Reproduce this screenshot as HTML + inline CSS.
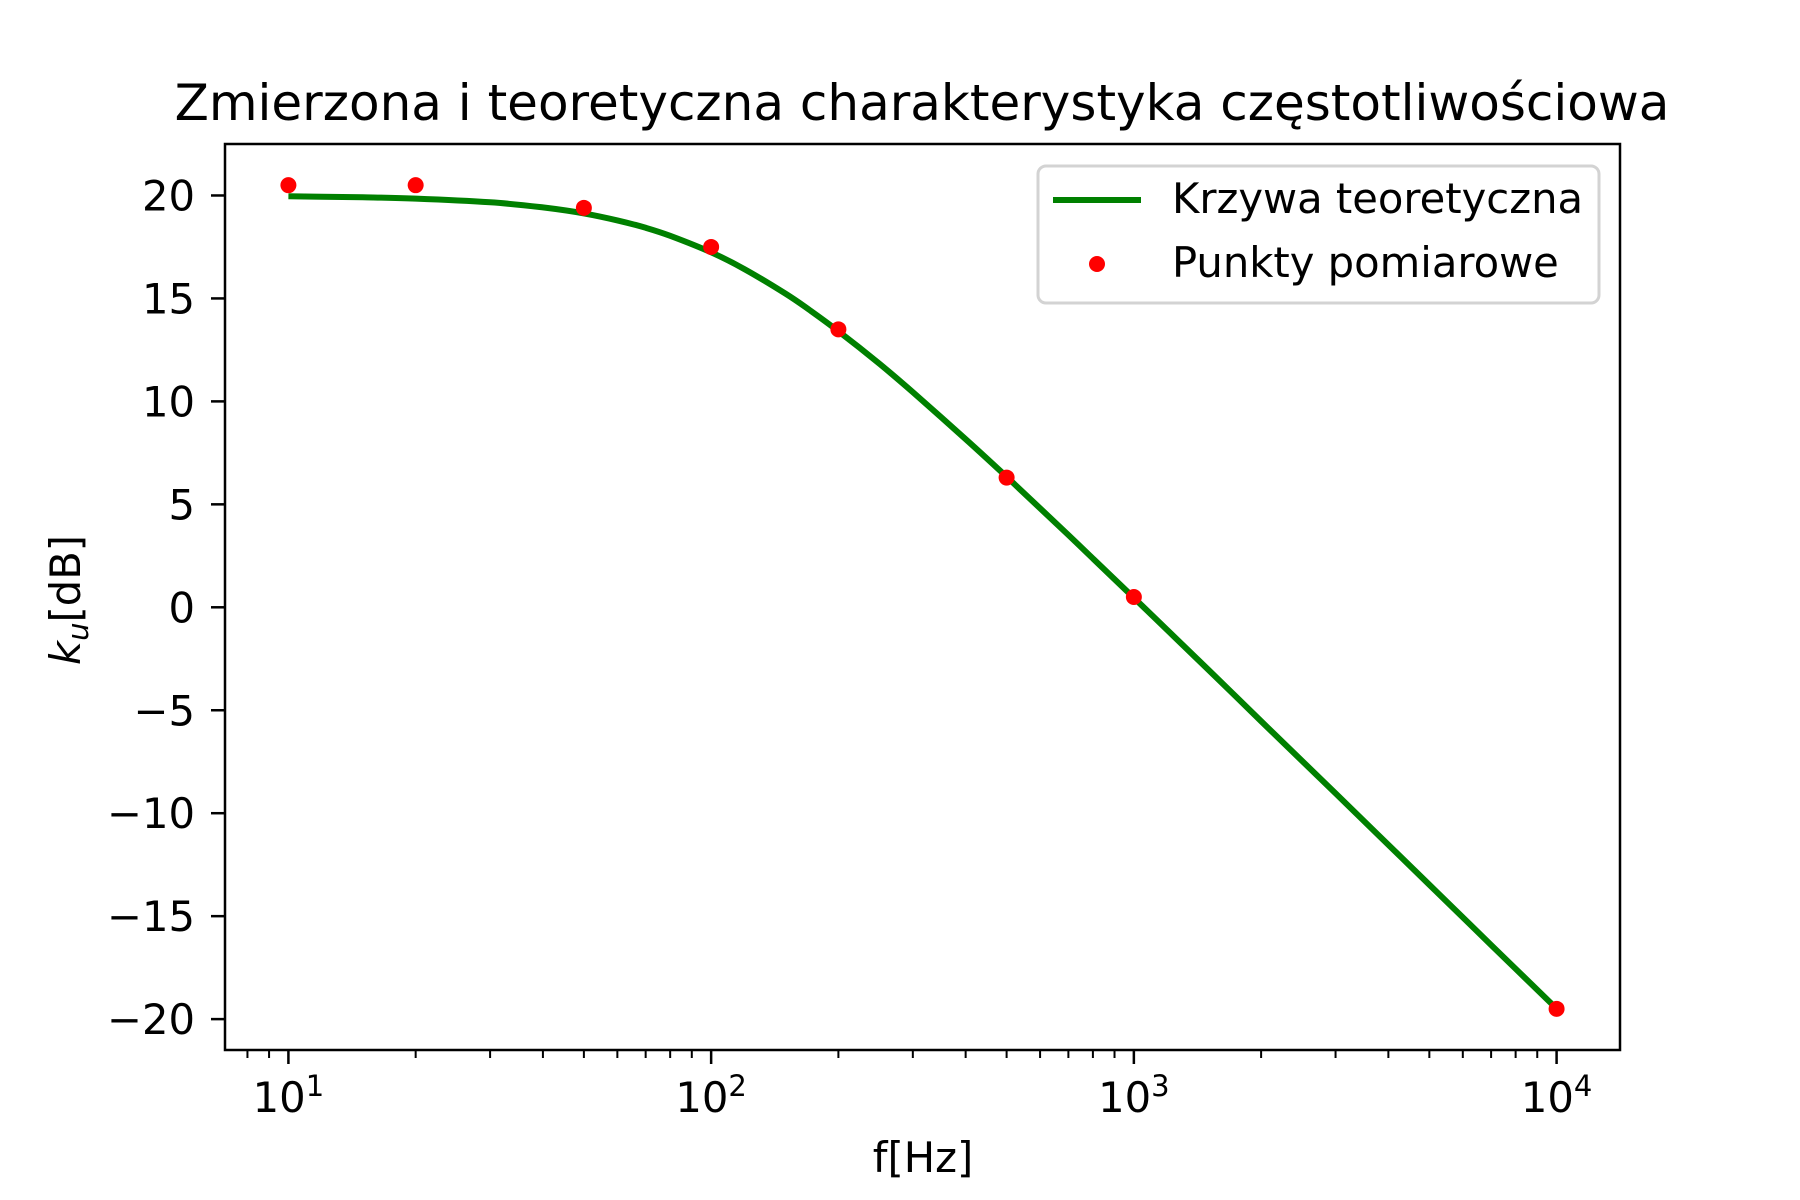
<!DOCTYPE html>
<html><head><meta charset="utf-8"><style>
html,body{margin:0;padding:0;background:#fff;}
svg{display:block;font-family:"DejaVu Sans","Liberation Sans",sans-serif;}
</style></head><body>
<svg id="chart" width="1800" height="1200" viewBox="0 0 1800 1200">
<rect width="1800" height="1200" fill="#fff"/>
<text x="922" y="120" font-size="50" text-anchor="middle">Zmierzona i teoretyczna charakterystyka częstotliwościowa</text>
<g id="plot"></g>
<text x="923" y="1172" font-size="41.7" text-anchor="middle">f[Hz]</text>
<text transform="translate(80,600) rotate(-90)" font-size="41.7" text-anchor="middle"><tspan font-style="italic">k</tspan><tspan font-style="italic" font-size="29" dy="8">u</tspan><tspan dy="-8">[dB]</tspan></text>
<g>
<rect x="1038" y="166" width="561" height="137" rx="8" fill="#fff" fill-opacity="0.8" stroke="#d3d3d3" stroke-width="3"/>
<line x1="1053" y1="200" x2="1141" y2="200" stroke="#008000" stroke-width="6"/>
<text x="1172" y="213" font-size="41.7">Krzywa teoretyczna</text>
<circle cx="1097" cy="264" r="8" fill="#ff0000"/>
<text x="1172" y="277" font-size="41.7">Punkty pomiarowe</text>
</g>
</svg>
<script>
const curveFreq = [10,12,15,20,30,40,50,60,70,80,100,120,150,170,200,250,300,400,500,600,700,800,1000,1500,2000,3000,5000,7000,10000];
const curveDb = [19.96,19.94,19.91,19.85,19.67,19.42,19.13,18.79,18.43,18.04,17.24,16.42,15.23,14.47,13.41,11.83,10.45,8.17,6.34,4.81,3.51,2.37,0.46,-3.03,-5.53,-9.04,-13.47,-16.40,-19.49];
const pointFreq = [10,20,50,100,200,500,1000,10000];
const pointDb = [20.5,20.5,19.4,17.5,13.5,6.3,0.5,-19.5];
const yTicks = [-20,-15,-10,-5,0,5,10,15,20];
const xTicks = [1,2,3,4];

const L=225,R=1620,T=144,B=1050;
const xMin=0.85,xMax=4.15,yMin=-21.5,yMax=22.5;
const NS='http://www.w3.org/2000/svg';
function xs(f){return L+(Math.log10(f)-xMin)/(xMax-xMin)*(R-L);}
function ys(v){return B-(v-yMin)/(yMax-yMin)*(B-T);}
const g=document.getElementById('plot');
function mk(tag,attrs,parent){const e=document.createElementNS(NS,tag);for(const k in attrs)e.setAttribute(k,attrs[k]);(parent||g).appendChild(e);return e;}

// curve (Catmull-Rom smoothing through sampled points)
const pts=curveFreq.map((f,i)=>[xs(f),ys(curveDb[i])]);
let d='M'+pts[0][0].toFixed(1)+','+pts[0][1].toFixed(1);
for(let i=0;i<pts.length-1;i++){
  const p0=pts[Math.max(0,i-1)],p1=pts[i],p2=pts[i+1],p3=pts[Math.min(pts.length-1,i+2)];
  const c1=[p1[0]+(p2[0]-p0[0])/6,p1[1]+(p2[1]-p0[1])/6];
  const c2=[p2[0]-(p3[0]-p1[0])/6,p2[1]-(p3[1]-p1[1])/6];
  d+='C'+c1[0].toFixed(1)+','+c1[1].toFixed(1)+' '+c2[0].toFixed(1)+','+c2[1].toFixed(1)+' '+p2[0].toFixed(1)+','+p2[1].toFixed(1);
}
const path=mk('path',{d:d,fill:'none',stroke:'#008000','stroke-width':6,'stroke-linejoin':'round'});



// points
pointFreq.forEach((f,i)=>{
  const c=mk('circle',{cx:xs(f),cy:ys(pointDb[i]),r:8,fill:'#ff0000'});
  
  
});

// y ticks
yTicks.forEach(v=>{
  const y=ys(v);
  const t=mk('line',{x1:L-14,x2:L,y1:y,y2:y,stroke:'#000','stroke-width':2.5});
  
  
  const tx=mk('text',{x:L-30,y:y+15,'font-size':41.7,'text-anchor':'end'});
  tx.textContent=(v<0?'\u2212':'')+Math.abs(v);
  
  
});

// x major ticks
xTicks.forEach(e=>{
  const x=xs(Math.pow(10,e));
  const t=mk('line',{x1:x,x2:x,y1:B,y2:B+14,stroke:'#000','stroke-width':2.5});
  
  
  const tx=mk('text',{x:x,y:1112,'font-size':41.7,'text-anchor':'middle'});
  
  
  const a=document.createElementNS(NS,'tspan');a.textContent='10';tx.appendChild(a);
  const b=document.createElementNS(NS,'tspan');b.textContent=String(e);b.setAttribute('font-size','29');b.setAttribute('dy','-16');tx.appendChild(b);
});
// x minor ticks
for(let e=0;e<=4;e++){for(let m=2;m<=9;m++){
  const f=m*Math.pow(10,e);const lv=Math.log10(f);
  if(lv<xMin||lv>xMax)continue;
  const x=xs(f);
  const t=mk('line',{x1:x,x2:x,y1:B,y2:B+8,stroke:'#000','stroke-width':2});
  
  
}}

// frame
const fr=mk('rect',{x:L,y:T,width:R-L,height:B-T,fill:'none',stroke:'#000','stroke-width':2.5});


</script>
</body></html>
